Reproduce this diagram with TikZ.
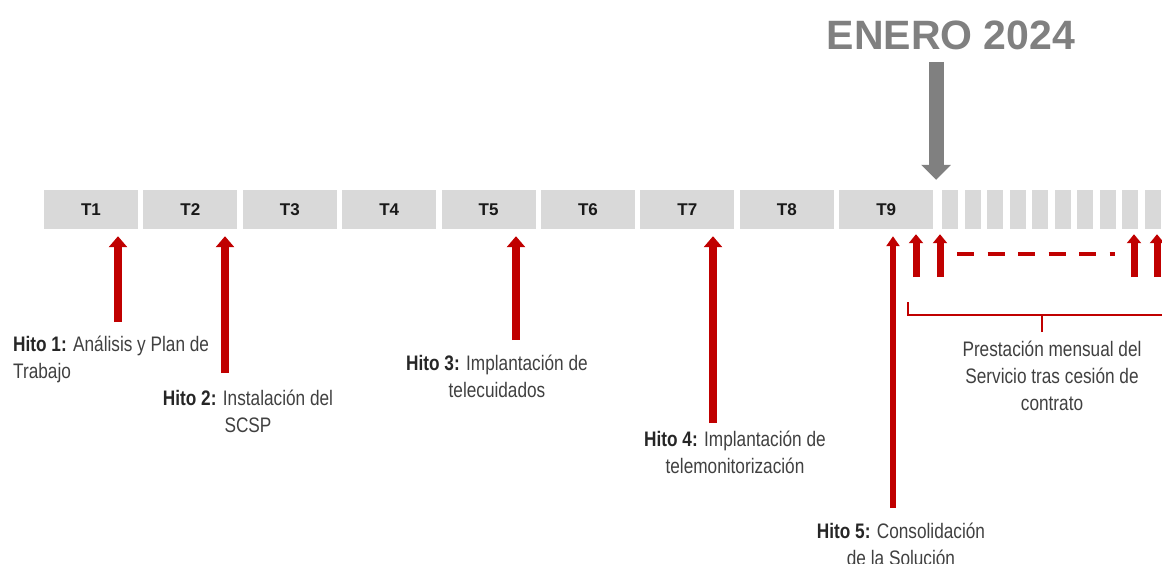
\documentclass[tikz,border=0pt]{standalone}
\usepackage{fontspec}
\setmainfont{Liberation Sans}
\newfontfamily\narrowfont[FakeStretch=0.82]{Liberation Sans}
\usepackage{tikz}
\usetikzlibrary{arrows.meta}

\definecolor{hitored}{HTML}{C00000}
\definecolor{boxgrey}{HTML}{D9D9D9}
\definecolor{arrowgrey}{HTML}{808080}
\definecolor{textgrey}{HTML}{404040}

\begin{document}
\begin{tikzpicture}[x=1pt, y=-1pt,
    tbox/.style={rectangle, fill=boxgrey, minimum width=94pt, minimum height=39pt, inner sep=0pt,
        font=\fontsize{17}{20}\selectfont\bfseries, text=black!90},
    cell/.style={rectangle, fill=boxgrey, minimum width=16pt, minimum height=39pt, inner sep=0pt},
    hito/.style={draw=hitored, line width=8pt, -{Triangle[width=18pt,length=11pt]}, shorten >=7pt},
    mes/.style={draw=hitored, line width=7pt, -{Triangle[width=14pt,length=9pt]}, shorten >=5pt},
    hitotext/.style={inner sep=0pt, align=center, text=textgrey, font=\narrowfont\fontsize{21}{27}\selectfont},
    bracket/.style={draw=hitored, line width=2.5pt}]
    \useasboundingbox (0,0) rectangle (1162,564);

    % Define trimesters
    \node[tbox] (T1) at (91,209.5) {T1};
    \node[tbox] (T2) at (190.4,209.5) {T2};
    \node[tbox] (T3) at (289.8,209.5) {T3};
    \node[tbox] (T4) at (389.2,209.5) {T4};
    \node[tbox] (T5) at (488.6,209.5) {T5};
    \node[tbox] (T6) at (588,209.5) {T6};
    \node[tbox] (T7) at (687.4,209.5) {T7};
    \node[tbox] (T8) at (786.8,209.5) {T8};
    \node[tbox] (T9) at (886.2,209.5) {T9};
    % Define months after the transfer
    \node[cell] (M1) at (950,209.5) {};
    \node[cell] (M2) at (972.5,209.5) {};
    \node[cell] (M3) at (995,209.5) {};
    \node[cell] (M4) at (1017.5,209.5) {};
    \node[cell] (M5) at (1040,209.5) {};
    \node[cell] (M6) at (1062.5,209.5) {};
    \node[cell] (M7) at (1085,209.5) {};
    \node[cell] (M8) at (1107.5,209.5) {};
    \node[cell] (M9) at (1130,209.5) {};
    \node[cell] (M10) at (1152.5,209.5) {};

    % Date marker
    \node[anchor=base, inner sep=0pt, text=arrowgrey, font=\fontsize{41}{45}\selectfont\bfseries] (enero) at (951,50) {ENERO 2024};
    \coordinate (g) at (936,62);
    \draw[draw=arrowgrey, line width=15pt, -{Triangle[width=29pt,length=15pt]}, shorten >=10pt] (g) -- (g |- T9.north);

    % Milestones
    \node[hitotext, anchor=base west, align=left] (H1) at (13,378) {\textbf{\color{black!85}Hito 1:} Análisis y Plan de\\Trabajo};
    \node[hitotext, anchor=base] (H2) at (248,432) {\textbf{\color{black!85}Hito 2:} Instalación del\\SCSP};
    \node[hitotext, anchor=base] (H3) at (497,397) {\textbf{\color{black!85}Hito 3:} Implantación de\\telecuidados};
    \node[hitotext, anchor=base] (H4) at (735,473) {\textbf{\color{black!85}Hito 4:} Implantación de\\telemonitorización};
    \node[hitotext, anchor=base] (H5) at (901,565) {\textbf{\color{black!85}Hito 5:} Consolidación\\de la Solución};
    \coordinate (a1) at (118,322);
    \coordinate (a2) at (225,373);
    \coordinate (a3) at (516,340);
    \coordinate (a4) at (713,423);
    \coordinate (a5) at (893,508);
    \draw[hito] (a1) -- (a1 |- T1.south);
    \draw[hito] (a2) -- (a2 |- T2.south);
    \draw[hito] (a3) -- (a3 |- T5.south);
    \draw[hito] (a4) -- (a4 |- T7.south);
    \draw[hito, line width=5.5pt, -{Triangle[width=13pt,length=10pt]}] (a5) -- (a5 |- T9.south);

    % Monthly service
    \coordinate (m1) at (916,277);
    \coordinate (m2) at (940,277);
    \coordinate (m3) at (1134,277);
    \coordinate (m4) at (1157,277);
    \draw[mes] (m1) -- (m1 |- T9.south);
    \draw[mes] (m2) -- (m2 |- M1.south);
    \draw[mes] (m3) -- (m3 |- M9.south);
    \draw[mes] (m4) -- (m4 |- M10.south);
    \coordinate (d1) at (957,254);
    \coordinate (d2) at (1115,254);
    \draw[draw=hitored, line width=4pt, dash pattern=on 17pt off 13.5pt] (d1) -- (d2);

    \coordinate (bl) at (908,302);
    \coordinate (br) at (1170,315);
    \coordinate (bm) at (1042,332);
    \draw[bracket] (bl) |- (br);
    \draw[bracket] (bm) -- (bm |- br);
    \node[hitotext, anchor=base] (S) at (1052,410) {Prestación mensual del\\Servicio tras cesión de\\contrato};
\end{tikzpicture}
\end{document}
